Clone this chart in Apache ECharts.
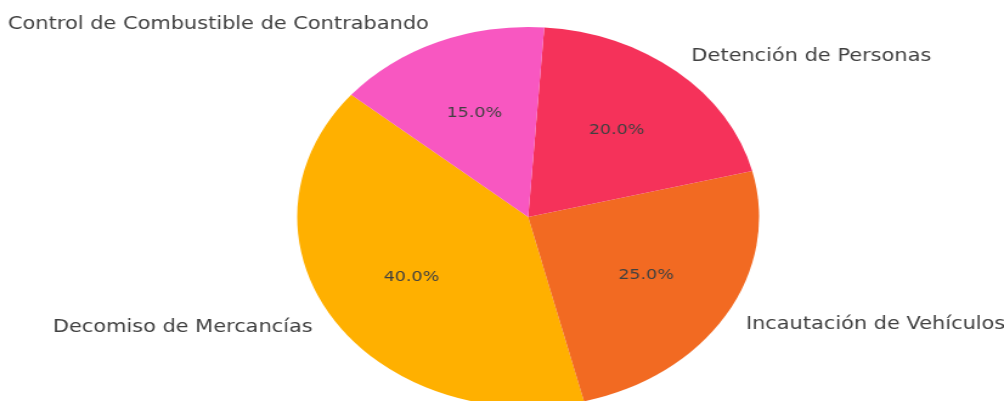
<!DOCTYPE html>
<html>
<head>
<meta charset="utf-8">
<script src="https://cdn.jsdelivr.net/npm/echarts@6/dist/echarts.min.js"></script>
<style>
html,body{margin:0;padding:0;background:#fff;overflow:hidden;}
#wrap{width:1004px;height:401px;overflow:hidden;position:relative;}
#chart{width:826px;height:401px;transform:scaleX(1.2155);transform-origin:0 0;position:absolute;left:0;top:0;}
</style>
</head>
<body>
<div id="wrap"><div id="chart"></div></div>
<script>
const categories = ["Decomiso de Mercancías", "Incautación de Vehículos", "Detención de Personas", "Control de Combustible de Contrabando"];
const values = [40, 25, 20, 15];
const colors = ["#FFB000", "#F26A22", "#F5325A", "#F857C1"];

const chart = echarts.init(document.getElementById('chart'), null, {renderer: 'canvas'});
const R = 190;
const data = categories.map((c, i) => ({name: c, value: values[i], itemStyle: {color: colors[i]}}));
const option = {
  animation: false,
  backgroundColor: '#ffffff',
  series: [
    {
      type: 'pie',
      center: [434.5, 217],
      radius: [0, R],
      startAngle: 140,
      clockwise: false,
      avoidLabelOverlap: false,
      data: data,
      itemStyle: {borderWidth: 0},
      label: {
        show: true,
        position: 'outside',
        fontFamily: 'DejaVu Sans',
        fontSize: 17.2,
        color: '#404040',
        formatter: '{b}',
        alignTo: 'none',
        distanceToLabelLine: 0,
        edgeDistance: 0,
        bleedMargin: 0
      },
      labelLine: {show: false, length: R * 0.1, length2: 0},
      emphasis: {disabled: true}
    },
    {
      type: 'pie',
      center: [434.5, 217],
      radius: [0, R * 1.16],
      startAngle: 140,
      clockwise: false,
      silent: true,
      data: categories.map((c, i) => ({name: c, value: values[i]})),
      itemStyle: {color: 'rgba(0,0,0,0)'},
      label: {
        show: true,
        position: 'inside',
        fontFamily: 'DejaVu Sans',
        fontSize: 14.4,
        color: '#404040',
        formatter: p => p.percent.toFixed(1) + '%'
      },
      labelLine: {show: false},
      emphasis: {disabled: true}
    }
  ]
};
chart.setOption(option);
</script>
</body>
</html>
